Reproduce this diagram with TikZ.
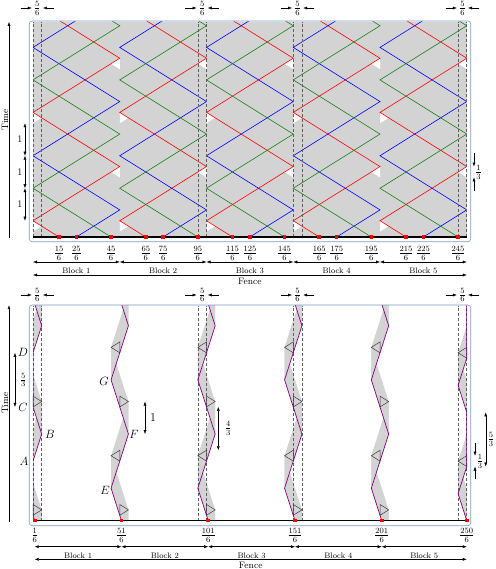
\documentclass[tikz,border=0pt]{standalone}
\usetikzlibrary{arrows.meta}
\definecolor{panelc}{RGB}{125,155,195}
\definecolor{coverc}{RGB}{211,211,211}
\definecolor{guidec}{RGB}{95,95,95}
\definecolor{robgreen}{RGB}{20,130,20}
\definecolor{robpurple}{RGB}{128,0,128}
\definecolor{markc}{RGB}{60,60,60}
\begin{document}
\begin{tikzpicture}[x=1pt,y=1pt,
  panelframe/.style={draw=panelc,line width=0.6pt,rounded corners=3pt},
  coverfill/.style={fill=coverc},
  guideline/.style={draw=guidec,dash pattern=on 3pt off 2pt,line width=0.6pt},
  fenceline/.style={line width=1.4pt,black},
  fencepost/.style={rectangle,fill=red,inner sep=0pt,minimum size=3.6pt},
  dimarrow/.style={{Latex[length=4pt,width=3pt]}-{Latex[length=4pt,width=3pt]},line width=0.4pt},
  toarrow/.style={-{Latex[length=4pt,width=3pt]},line width=0.4pt},
  fraclabel/.style={font=\fontsize{12}{14}\selectfont,inner sep=0pt},
  blklabel/.style={font=\fontsize{8}{9}\selectfont,inner sep=0pt},
  bigtext/.style={font=\fontsize{9.3}{11}\selectfont,inner sep=0pt},
  letterlabel/.style={font=\fontsize{12}{14}\selectfont,inner sep=0pt},
  robred/.style={draw=red,line width=0.6pt},
  robblue/.style={draw=blue,line width=0.6pt},
  robgreenl/.style={draw=robgreen,line width=0.6pt},
  robpath/.style={draw=robpurple,line width=0.7pt},
  marker/.style={draw=markc,line width=0.5pt}]
\useasboundingbox (0,0) rectangle (495,569);
\def\T{6.62}
\def\L{8.3333}
%% ================= TOP PANEL =================
\begin{scope}[shift={(33pt,332pt)},x=10.41pt,y=32.5pt]
\fill[coverfill] (0,0) rectangle (250/6,\T);
\begin{scope}
\clip (0,0) rectangle (250/6,\T);
\foreach \k in {0,...,4}{
 \begin{scope}[shift={(\k*\L,0)}]
 \fill[white] (0,0.5) -- (0,0.1667) -- (0.8333,0.3333) -- cycle;
 \fill[white] (0,3.8333) -- (0,3.5) -- (0.8333,3.6667) -- cycle;
 \fill[white] (\L,2.1667) -- (\L,1.8333) -- (7.5,2) -- cycle;
 \fill[white] (\L,5.5) -- (\L,5.1667) -- (7.5,5.3333) -- cycle;
 \draw[robred] (\L,-1.1667) -- (0,0.5) -- (\L,2.1667) -- (0,3.8333) -- (\L,5.5) -- (0,7.1667);
 \draw[robblue] (0,-0.8333) -- (\L,0.8333) -- (0,2.5) -- (\L,4.1667) -- (0,5.8333) -- (\L,7.5);
 \draw[robgreenl] (\L,-0.1667) -- (0,1.5) -- (\L,3.1667) -- (0,4.8333) -- (\L,6.5) -- (0,8.1667);
 \end{scope}
}
\end{scope}
\foreach \u in {0,5/6,95/6,100/6,150/6,155/6,245/6,250/6}
  \draw[guideline] (\u,0) -- (\u,\T);
\draw[panelframe] (-0.36,-0.145) rectangle (42.05,6.646);
\draw[fenceline] (0,0) -- (250/6,0);
\foreach \n in {15,25,45,65,75,95,115,125,145,165,175,195,215,225,245}{
  \node[fencepost] (p\n) at (\n/6,0) {};
  \node[fraclabel] (lp\n) at (\n/6,-0.508) {$\frac{\n}{6}$};
}
\foreach \k [evaluate=\k as \kk using int(\k+1)] in {0,...,4}{
  \coordinate (ta\kk) at (\k*\L,-0.769);
  \coordinate (tb\kk) at (\k*\L+\L,-0.769);
  \draw[dimarrow] (ta\kk) -- (tb\kk);
  \node[blklabel] (tbl\kk) at (\k*\L+\L/2,-1.03) {Block \kk};
}
\coordinate (tfa) at (0,-1.169);
\coordinate (tfb) at (250/6,-1.169);
\draw[dimarrow] (tfa) -- (tfb);
\node[bigtext] (tfence) at (125/6,-1.375) {Fence};
\foreach \a/\b in {0/5,95/100,150/155,245/250}{
  \draw[toarrow] (\a/6-1.2,7.046) -- (\a/6-0.12,7.046);
  \draw[toarrow] (\b/6+1.2,7.046) -- (\b/6+0.12,7.046);
  \node[fraclabel] (tw\a) at ({(\a+\b)/12},7.046) {$\frac{5}{6}$};
}
\coordinate (tt0) at (-2.305,-0.03);
\coordinate (tt1) at (-2.305,6.62);
\draw[toarrow,line width=0.5pt] (tt0) -- (tt1);
\node[bigtext,rotate=90] (ttime) at (-2.69,3.6) {Time};
\foreach \s in {0.5,1.5,2.5}{
  \draw[dimarrow] (-0.77,\s) -- (-0.77,\s+1);
  \node[font=\fontsize{10}{12}\selectfont,inner sep=0pt] (one\s) at (-1.25,\s+0.5) {1};
}
\draw[toarrow] (42.36,2.58) -- (42.36,2.1667);
\draw[toarrow] (42.36,1.42) -- (42.36,1.8333);
\node[fraclabel] (tthird) at (42.8,2.0) {$\frac{1}{3}$};
\end{scope}
%% ================= BOTTOM PANEL =================
\begin{scope}[shift={(33pt,48.3pt)},x=10.41pt,y=32.5pt]
\begin{scope}
\clip (0,0) rectangle (250/6,\T);
\foreach \xa/\ta/\xb/\tb in {0/-1.5/0.8333/-0.6667, 0.8333/-0.6667/0/0.1667, 0/1.8333/0.8333/2.6667, 0.8333/2.6667/0/3.5, 0/5.1667/0.8333/6, 0.8333/6/0/6.8333}
  \fill[coverfill] (\xa,\ta) -- (\xb,\tb) -- (\xb,\tb+1) -- (\xa,\ta+1) -- cycle;
\foreach \k in {1,...,4}{
 \begin{scope}[shift={(\k*\L,0)}]
 \foreach \xa/\ta/\xb/\tb in {-0.8333/-2.3333/0.8333/-0.6667, 0.8333/-0.6667/-0.8333/1, -0.8333/1/0.8333/2.6667, 0.8333/2.6667/-0.8333/4.3333, -0.8333/4.3333/0.8333/6, 0.8333/6/-0.8333/7.6667}
   \fill[coverfill] (\xa,\ta) -- (\xb,\tb) -- (\xb,\tb+1) -- (\xa,\ta+1) -- cycle;
 \end{scope}
}
\begin{scope}[shift={(250/6,0)}]
 \foreach \xa/\ta/\xb/\tb in {0/0/-0.8333/0.8333, -0.8333/0.8333/0/1.6667, 0/3.3333/-0.8333/4.1667, -0.8333/4.1667/0/5}
   \fill[coverfill] (\xa,\ta) -- (\xb,\tb) -- (\xb,\tb+1) -- (\xa,\ta+1) -- cycle;
\end{scope}
\end{scope}
\foreach \u in {0,5/6,95/6,100/6,150/6,155/6,245/6,250/6}
  \draw[guideline] (\u,0) -- (\u,\T);
% markers
\foreach \k in {0,...,4}{
 \begin{scope}[shift={(\k*\L,0)}]
  \draw[marker] (0,0.1667) -- (0.8333,0.3333) -- (0,0.5) -- cycle;
  \draw[marker] (0,3.5) -- (0.8333,3.6667) -- (0,3.8333) -- cycle;
 \end{scope}
}
\foreach \k in {1,...,4}{
 \begin{scope}[shift={(\k*\L,0)}]
  \draw[marker] (0,1.8333) -- (-0.8333,2) -- (0,2.1667) -- cycle;
  \draw[marker] (0,5.1667) -- (-0.8333,5.3333) -- (0,5.5) -- cycle;
 \end{scope}
}
\begin{scope}[shift={(250/6,0)}]
  \draw[marker] (0,1.6667) -- (-0.8333,1.8333) -- (0,2) -- cycle;
  \draw[marker] (0,5) -- (-0.8333,5.1667) -- (0,5.3333) -- cycle;
\end{scope}
% robot paths
\begin{scope}
\clip (0,0) rectangle (250/6,\T);
\draw[robpath] (0.8333,-0.6667) -- (0,0.1667) -- (0,1.8333) -- (0.8333,2.6667) -- (0,3.5) -- (0,5.1667) -- (0.8333,6) -- (0,6.8333);
\foreach \k in {1,...,4}{
 \begin{scope}[shift={(\k*\L,0)}]
 \draw[robpath] (0.8333,-0.6667) -- (-0.8333,1) -- (0.8333,2.6667) -- (-0.8333,4.3333) -- (0.8333,6) -- (-0.8333,7.6667);
 \end{scope}
}
\begin{scope}[shift={(250/6,0)}]
 \draw[robpath] (0,-0.5) -- (0,0) -- (-0.8333,0.8333) -- (0,1.6667) -- (0,3.3333) -- (-0.8333,4.1667) -- (0,5) -- (0,7);
\end{scope}
\end{scope}
\draw[panelframe] (-0.36,-0.154) rectangle (42.05,6.637);
\draw[fenceline] (0,0) -- (250/6,0);
\foreach \n in {1,51,101,151,201,250}{
  \node[fencepost] (q\n) at (\n/6,0) {};
  \node[fraclabel] (lq\n) at (\n/6,-0.455) {$\frac{\n}{6}$};
}
\foreach \a/\b/\kk in {1/51/1,51/101/2,101/151/3,151/201/4,201/250/5}{
  \coordinate (ba\kk) at (\a/6,-0.8);
  \coordinate (bb\kk) at (\b/6,-0.8);
  \draw[dimarrow] (ba\kk) -- (bb\kk);
  \node[blklabel] (bbl\kk) at ({(\a+\b)/12},-1.07) {Block \kk};
}
\coordinate (bfa) at (1/6,-1.188);
\coordinate (bfb) at (250/6,-1.188);
\draw[dimarrow] (bfa) -- (bfb);
\node[bigtext] (bfence) at (125.5/6,-1.37) {Fence};
\foreach \a/\b in {0/5,95/100,150/155,245/250}{
  \draw[toarrow] (\a/6-1.2,6.945) -- (\a/6-0.12,6.945);
  \draw[toarrow] (\b/6+1.2,6.945) -- (\b/6+0.12,6.945);
  \node[fraclabel] (bw\a) at ({(\a+\b)/12},6.945) {$\frac{5}{6}$};
}
\coordinate (bt0) at (-2.305,-0.03);
\coordinate (bt1) at (-2.305,6.63);
\draw[toarrow,line width=0.5pt] (bt0) -- (bt1);
\node[bigtext,rotate=90] (btime) at (-2.69,3.62) {Time};
% letters
\node[letterlabel] (A) at (-0.86,1.81) {$A$};
\node[letterlabel] (B) at (1.63,2.64) {$B$};
\node[letterlabel] (C) at (-0.96,3.5) {$C$};
\node[letterlabel] (D) at (-0.96,5.17) {$D$};
\node[letterlabel] (E) at (6.92,0.945) {$E$};
\node[letterlabel] (F) at (9.70,2.64) {$F$};
\node[letterlabel] (G) at (6.82,4.30) {$G$};
% dimension marks
\draw[dimarrow] (10.76,2.6667) -- (10.76,3.6667);
\node[letterlabel] (bone) at (11.53,3.17) {1};
\draw[dimarrow] (17.8,2.1667) -- (17.8,3.5);
\node[fraclabel] (bfour) at (18.76,2.83) {$\frac{4}{3}$};
\draw[dimarrow] (-1.73,3.5) -- (-1.73,5.1667);
\node[fraclabel] (bfiveL) at (-0.93,4.33) {$\frac{5}{3}$};
\draw[dimarrow] (43.49,1.6667) -- (43.49,3.3333);
\node[fraclabel] (bfiveR) at (44.0,2.5) {$\frac{5}{3}$};
\draw[toarrow] (42.46,2.4) -- (42.46,2.0);
\draw[toarrow] (42.46,1.27) -- (42.46,1.6667);
\node[fraclabel] (bthird) at (42.94,1.833) {$\frac{1}{3}$};
\end{scope}
\end{tikzpicture}
\end{document}
